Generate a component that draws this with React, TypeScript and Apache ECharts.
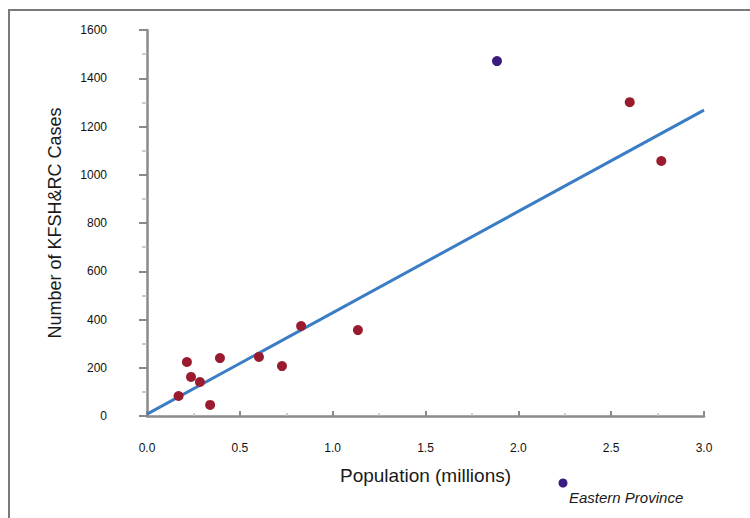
import React, { useEffect, useRef } from "react";
import * as echarts from "echarts";

const populationMillions = [0.17, 0.215, 0.237, 0.285, 0.34, 0.393, 0.603, 0.727, 0.83, 1.136, 2.6, 2.77];
const kfshCases = [83, 224, 162, 141, 46, 240, 245, 207, 373, 356, 1301, 1057];
const easternPopulation = [1.885];
const easternCases = [1471];
const fitX = [0, 3];
const fitY = [8, 1268];
const legendLabel = "Eastern Province";
const xTitle = "Population (millions)";
const yTitle = "Number of KFSH&RC Cases";

const narrow = "'Liberation Sans Narrow', 'Arial Narrow', 'Liberation Sans', sans-serif";

export default function App() {
  const ref = useRef<HTMLDivElement>(null);
  useEffect(() => {
    if (!ref.current) return;
    const chart = echarts.init(ref.current, null, { renderer: "svg" });
    const axisColor = "#8a8a8a";
    chart.setOption({
      animation: false,
      backgroundColor: "#ffffff",
      grid: { left: 147, right: 46, top: 30, bottom: 102 },
      xAxis: {
        type: "value",
        min: 0,
        max: 3,
        interval: 0.5,
        offset: 14,
        name: xTitle,
        nameLocation: "middle",
        nameGap: 36,
        nameTextStyle: { fontFamily: narrow, fontSize: 19, color: "#1a1a1a" },
        axisLine: { show: true, lineStyle: { color: axisColor, width: 2.5 } },
        axisTick: { show: true, inside: true, length: 5, lineStyle: { color: axisColor, width: 2 } },
        minorTick: { show: true, splitNumber: 2, length: 3, lineStyle: { color: "#bbbbbb", width: 1.5 } },
        splitLine: { show: false },
        axisLabel: {
          margin: 12,
          fontFamily: narrow,
          fontSize: 12,
          color: "#111111",
          formatter: (v: number) => v.toFixed(1),
        },
      },
      yAxis: {
        type: "value",
        min: 0,
        max: 1600,
        interval: 200,
        offset: 20,
        name: yTitle,
        nameLocation: "middle",
        nameGap: 63,
        nameTextStyle: { fontFamily: "'Liberation Sans', Arial, sans-serif", fontSize: 18, color: "#1a1a1a" },
        axisLine: { show: true, lineStyle: { color: axisColor, width: 2.5 } },
        axisTick: { show: true, inside: false, length: 8, lineStyle: { color: axisColor, width: 2 } },
        minorTick: { show: true, splitNumber: 2, length: 5, lineStyle: { color: "#bbbbbb", width: 1.5 } },
        splitLine: { show: false },
        axisLabel: {
          margin: 20,
          fontFamily: narrow,
          fontSize: 12,
          color: "#111111",
          formatter: (v: number) => String(v),
        },
      },
      series: [
        {
          type: "line",
          data: fitX.map((x, i) => [x, fitY[i]]),
          showSymbol: false,
          symbol: "none",
          lineStyle: { color: "#3a7dc4", width: 3 },
          z: 2,
        },
        {
          type: "scatter",
          data: populationMillions.map((x, i) => [x, kfshCases[i]]),
          symbolSize: 10,
          itemStyle: { color: "#9a1b2e", opacity: 1 },
          z: 3,
        },
        {
          type: "scatter",
          name: legendLabel,
          data: easternPopulation.map((x, i) => [x, easternCases[i]]),
          symbolSize: 10,
          itemStyle: { color: "#3b1b7d", opacity: 1 },
          z: 3,
        },
      ],
      graphic: [
        {
          type: "rect",
          shape: { x: 9, y: 10, width: 800, height: 600 },
          style: { fill: "none", stroke: "#7a7a7a", lineWidth: 2 },
          silent: true,
        },
        {
          type: "circle",
          shape: { cx: 563, cy: 483, r: 4.5 },
          style: { fill: "#3b1b7d" },
        },
        {
          type: "text",
          x: 569,
          y: 497,
          style: {
            text: legendLabel,
            font: "italic 15px " + narrow,
            fill: "#1a1a1a",
            verticalAlign: "middle",
            textAlign: "left",
          },
        },
      ],
    });
    return () => chart.dispose();
  }, []);
  return (
    <div
      ref={ref}
      style={{ position: "fixed", left: 0, top: 0, width: 750, height: 518 }}
    />
  );
}
